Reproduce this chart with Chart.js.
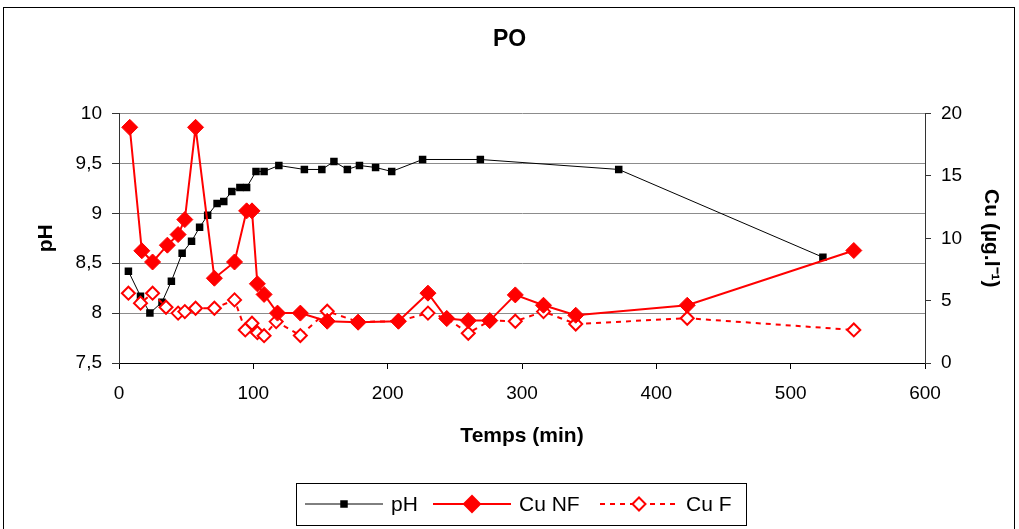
<!DOCTYPE html>
<html>
<head>
<meta charset="utf-8">
<script src="https://cdn.jsdelivr.net/npm/chart.js@4.4.1/dist/chart.umd.min.js"></script>
<style>
  html, body { margin: 0; padding: 0; background: #fff; }
  #zone { width: 1019px; height: 529px; }
</style>
</head>
<body>
<div id="zone"><canvas id="graphiquePO" width="1019" height="529"></canvas></div>
<script>
// temps en minutes, pH et cuivre (µg/l)
const tempsPH = [7, 16, 23, 32, 39, 47, 54, 60, 66, 73, 78, 84, 90, 95, 102, 108, 119, 138, 151, 160, 170, 179, 191, 203, 226, 269, 372, 524]
const valeursPH = [8.42, 8.17, 8.0, 8.11, 8.32, 8.60, 8.72, 8.86, 8.98, 9.10, 9.12, 9.22, 9.26, 9.26, 9.42, 9.42, 9.48, 9.44, 9.44, 9.52, 9.44, 9.48, 9.46, 9.42, 9.54, 9.54, 9.44, 8.56]

const tempsCuNF = [8, 17, 25, 36, 44, 49, 57, 71, 86, 95, 99, 103, 108, 118, 135, 155, 178, 208, 230, 244, 260, 276, 295, 316, 340, 423, 547]
const valeursCuNF = [18.9, 9.0, 8.1, 9.45, 10.3, 11.5, 18.9, 6.8, 8.1, 12.2, 12.2, 6.35, 5.5, 4.0, 4.0, 3.35, 3.27, 3.35, 5.6, 3.56, 3.4, 3.4, 5.46, 4.63, 3.83, 4.63, 9.02]

const tempsCuF = [7, 16, 25, 35, 44, 49, 57, 71, 86, 94, 99, 103, 108, 117, 135, 155, 178, 208, 230, 244, 260, 276, 295, 316, 340, 423, 547]
const valeursCuF = [5.6, 4.8, 5.6, 4.47, 4.0, 4.12, 4.39, 4.39, 5.06, 2.65, 3.19, 2.43, 2.19, 3.32, 2.2, 4.15, 3.3, 3.35, 4.0, 3.6, 2.38, 3.4, 3.35, 4.12, 3.13, 3.59, 2.65]

const ticksX = [0, 100, 200, 300, 400, 500, 600]
const ticksPH = [7.5, 8, 8.5, 9, 9.5, 10]
const ticksCu = [0, 5, 10, 15, 20]

const police = 'Liberation Sans, Arial, sans-serif'

function points(xs, ys) {
    return xs.map((x, i) => ({ x: x, y: ys[i] }))
}

// cadre extérieur du graphique
const cadre = {
    id: 'cadre',
    beforeDraw(chart) {
        const ctx = chart.ctx
        ctx.save()
        ctx.fillStyle = '#fff'
        ctx.fillRect(0, 0, chart.width, chart.height)
        ctx.strokeStyle = '#000'
        ctx.lineWidth = 1
        ctx.strokeRect(3.5, 7.5, 1011, 560)
        ctx.restore()
    }
}

// légende façon Excel : trait + marqueur
const legende = {
    id: 'legende',
    afterDraw(chart) {
        const ctx = chart.ctx
        const departs = [305, 433, 600]
        const longueur = 78
        const y = 504
        ctx.save()
        ctx.strokeStyle = '#000'
        ctx.lineWidth = 1
        ctx.strokeRect(296.5, 483.5, 450, 42)
        chart.data.datasets.forEach((ds, i) => {
            const x0 = departs[i]
            ctx.save()
            ctx.strokeStyle = ds.borderColor
            ctx.lineWidth = ds.borderWidth
            ctx.setLineDash(ds.borderDash || [])
            ctx.beginPath()
            ctx.moveTo(x0, y)
            ctx.lineTo(x0 + longueur, y)
            ctx.stroke()
            ctx.setLineDash([])
            ctx.fillStyle = ds.pointBackgroundColor
            ctx.strokeStyle = ds.pointBorderColor
            Chart.helpers.drawPoint(ctx, {
                pointStyle: ds.pointStyle,
                radius: ds.pointRadius,
                rotation: 0,
                borderWidth: ds.pointBorderWidth
            }, x0 + longueur / 2, y)
            ctx.restore()
            ctx.fillStyle = '#000'
            ctx.font = '21px ' + police
            ctx.textBaseline = 'middle'
            ctx.fillText(ds.label, x0 + longueur + 8, y + 1)
        })
        ctx.restore()
    }
}

const graphique = new Chart(document.getElementById('graphiquePO'), {
    type: 'line',
    data: {
        datasets: [{
            label: 'pH',
            data: points(tempsPH, valeursPH),
            yAxisID: 'yPH',
            borderColor: '#000',
            borderWidth: 1,
            pointStyle: 'rect',
            pointRadius: 5.3,
            pointBackgroundColor: '#000',
            pointBorderColor: '#000',
            pointBorderWidth: 0,
            order: 3
        }, {
            label: 'Cu NF',
            data: points(tempsCuNF, valeursCuNF),
            yAxisID: 'yCu',
            borderColor: '#ff0000',
            borderWidth: 2,
            pointStyle: 'rectRot',
            pointRadius: 8,
            pointBackgroundColor: '#ff0000',
            pointBorderColor: '#ff0000',
            pointBorderWidth: 1,
            order: 1
        }, {
            label: 'Cu F',
            data: points(tempsCuF, valeursCuF),
            yAxisID: 'yCu',
            borderColor: '#ff0000',
            borderWidth: 2,
            borderDash: [5, 5],
            pointStyle: 'rectRot',
            pointRadius: 6.5,
            pointBackgroundColor: '#fff',
            pointBorderColor: '#ff0000',
            pointBorderWidth: 2,
            order: 2
        }]
    },
    options: {
        responsive: false,
        animation: false,
        layout: { padding: { top: 8, left: 0, right: 0, bottom: 0 } },
        elements: { line: { tension: 0 } },
        plugins: {
            legend: { display: false },
            tooltip: { enabled: false },
            title: {
                display: true,
                text: 'PO',
                color: '#000',
                font: { family: police, size: 23, weight: 'bold' },
                padding: { top: 18, bottom: 60 }
            }
        },
        scales: {
            x: {
                type: 'linear',
                min: 0,
                max: 600,
                afterFit: (s) => { s.height = 166 },
                afterBuildTicks: (s) => { s.ticks = ticksX.map(v => ({ value: v })) },
                border: { color: '#000', width: 1 },
                grid: { drawOnChartArea: false, color: '#000', tickLength: 6 },
                ticks: { color: '#000', padding: 13, font: { family: police, size: 19 } },
                title: {
                    display: true,
                    text: 'Temps (min)',
                    color: '#000',
                    font: { family: police, size: 21, weight: 'bold' },
                    padding: { top: 0, bottom: 80 }
                }
            },
            yPH: {
                type: 'linear',
                position: 'left',
                min: 7.5,
                max: 10,
                afterFit: (s) => { s.width = 119 },
                afterBuildTicks: (s) => { s.ticks = ticksPH.map(v => ({ value: v })) },
                border: { color: '#333', width: 1 },
                grid: { color: '#8c8c8c', tickLength: 7, tickColor: '#333' },
                ticks: {
                    color: '#000',
                    padding: 10,
                    font: { family: police, size: 19 },
                    callback: (v) => String(v).replace('.', ',')
                },
                title: {
                    display: true,
                    text: 'pH',
                    color: '#000',
                    font: { family: police, size: 21, weight: 'bold' },
                    padding: { top: 34, bottom: 0 }
                }
            },
            yCu: {
                type: 'linear',
                position: 'right',
                min: 0,
                max: 20,
                afterFit: (s) => { s.width = 94 },
                afterBuildTicks: (s) => { s.ticks = ticksCu.map(v => ({ value: v })) },
                border: { color: '#333', width: 1 },
                grid: { drawOnChartArea: false, color: '#333', tickLength: 6 },
                ticks: { color: '#000', padding: 10, font: { family: police, size: 19 } },
                title: {
                    display: true,
                    text: 'Cu (µg.l⁻¹)',
                    color: '#000',
                    font: { family: police, size: 21, weight: 'bold' },
                    padding: { top: 16, bottom: 0 }
                }
            }
        }
    },
    plugins: [cadre, legende]
});
</script>
</body>
</html>
